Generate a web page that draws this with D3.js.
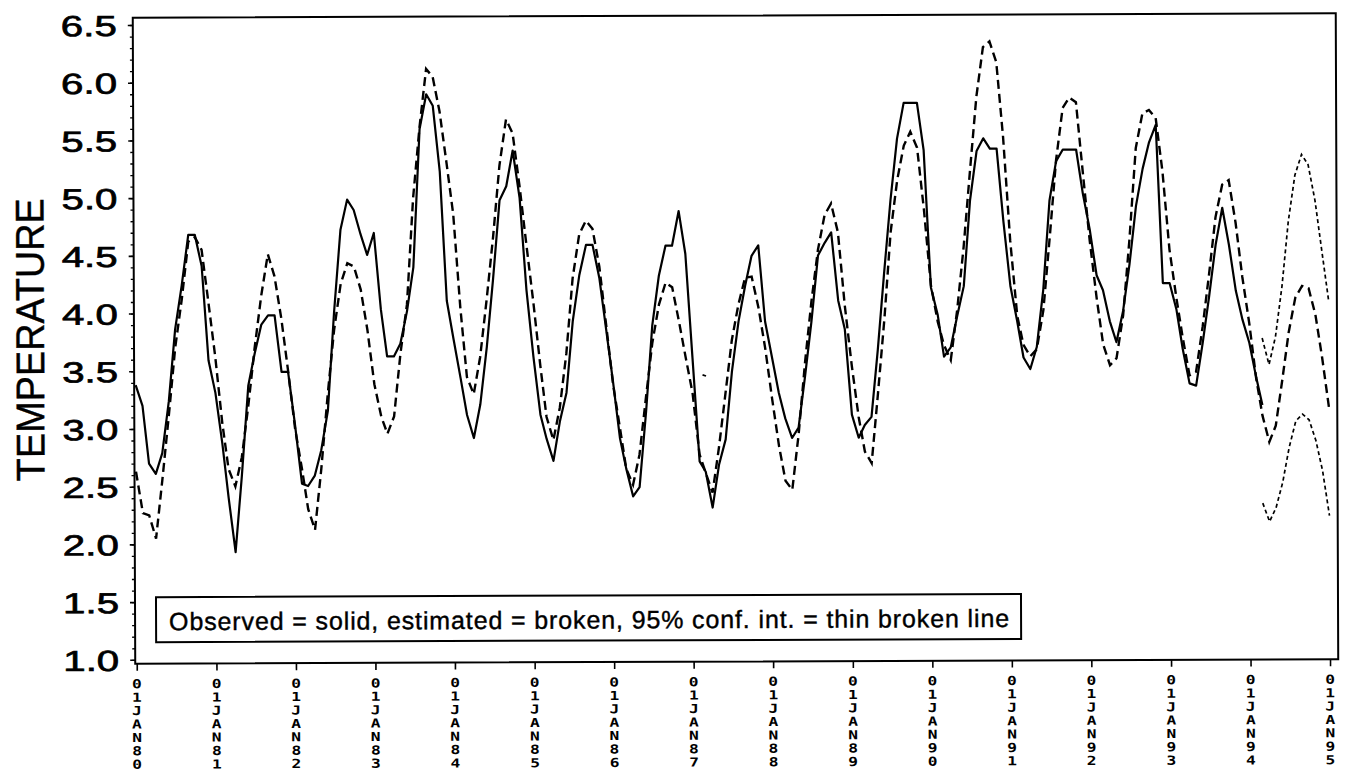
<!DOCTYPE html>
<html><head><meta charset="utf-8">
<script src="https://cdn.jsdelivr.net/npm/d3@7"></script>
<style>html,body{margin:0;padding:0;background:#fff;} svg{display:block}</style>
</head><body>
<svg id="chart" width="1346" height="774"></svg>
<script>
// ---- data (monthly, starting Jan 1980) ----
const startMonth = "1980-01-01";
const obsValues = [
  3.38, 3.20, 2.70, 2.61, 2.79, 3.24, 3.86, 4.24, 4.68, 4.68, 4.41, 3.59,
  3.31, 2.87, 2.40, 1.93, 2.59, 3.37, 3.65, 3.90, 3.98, 3.98, 3.49, 3.49,
  3.03, 2.52, 2.50, 2.59, 2.81, 3.15, 4.00, 4.72, 4.98, 4.89, 4.68, 4.50,
  4.69, 4.03, 3.62, 3.62, 3.73, 4.01, 4.39, 5.59, 5.89, 5.79, 5.22, 4.10,
  3.76, 3.43, 3.11, 2.91, 3.20, 3.70, 4.29, 4.97, 5.09, 5.40, 4.99, 4.19,
  3.61, 3.11, 2.90, 2.71, 3.05, 3.30, 3.92, 4.32, 4.58, 4.58, 4.29, 3.85,
  3.39, 2.90, 2.64, 2.40, 2.48, 3.13, 3.88, 4.31, 4.57, 4.57, 4.87, 4.50,
  3.60, 2.70, 2.61, 2.30, 2.67, 2.89, 3.48, 3.91, 4.22, 4.48, 4.57, 3.91,
  3.60, 3.29, 3.07, 2.90, 2.99, 3.44, 3.91, 4.48, 4.59, 4.68, 4.09, 3.84,
  3.10, 2.90, 3.01, 3.08, 3.66, 4.34, 4.96, 5.49, 5.80, 5.80, 5.80, 5.39,
  4.20, 3.96, 3.60, 3.68, 3.95, 4.21, 4.95, 5.38, 5.49, 5.40, 5.40, 4.77,
  4.21, 3.90, 3.59, 3.49, 3.68, 4.18, 4.95, 5.29, 5.39, 5.39, 5.39, 5.01,
  4.70, 4.30, 4.17, 3.90, 3.72, 3.99, 4.39, 4.90, 5.22, 5.45, 5.60, 4.23,
  4.23, 4.00, 3.66, 3.36, 3.34, 3.71, 4.11, 4.56, 4.88, 4.56, 4.16, 3.91,
  3.71, 3.41, 3.17
];
const estValues = [
  2.63, 2.27, 2.25, 2.05, 2.56, 3.12, 3.70, 4.12, 4.62, 4.66, 4.55, 4.10,
  3.62, 3.05, 2.65, 2.50, 2.75, 3.20, 3.70, 4.15, 4.51, 4.32, 3.95, 3.50,
  3.00, 2.65, 2.30, 2.12, 2.65, 3.30, 3.85, 4.25, 4.43, 4.40, 4.20, 3.85,
  3.38, 3.10, 2.95, 3.10, 3.64, 4.07, 4.99, 5.61, 6.11, 6.04, 5.74, 5.31,
  4.85, 4.04, 3.44, 3.29, 3.61, 4.11, 4.64, 5.27, 5.67, 5.55, 5.09, 4.59,
  4.09, 3.54, 3.09, 2.89, 3.17, 3.64, 4.29, 4.67, 4.79, 4.72, 4.39, 3.89,
  3.37, 2.99, 2.64, 2.50, 2.76, 3.26, 3.73, 4.06, 4.25, 4.21, 3.91, 3.60,
  3.29, 2.76, 2.60, 2.43, 2.82, 3.29, 3.75, 4.06, 4.29, 4.30, 4.03, 3.68,
  3.24, 2.83, 2.53, 2.45, 2.93, 3.56, 4.08, 4.53, 4.83, 4.93, 4.68, 4.05,
  3.53, 3.08, 2.78, 2.68, 3.28, 3.93, 4.68, 5.13, 5.43, 5.55, 5.41, 4.88,
  4.22, 3.90, 3.70, 3.57, 4.00, 4.55, 5.20, 5.85, 6.28, 6.33, 6.15, 5.50,
  4.60, 3.95, 3.70, 3.60, 3.66, 4.00, 4.62, 5.30, 5.75, 5.84, 5.80, 5.20,
  4.60, 4.10, 3.70, 3.52, 3.58, 3.95, 4.60, 5.40, 5.70, 5.73, 5.66, 5.20,
  4.52, 4.10, 3.76, 3.43, 3.46, 3.85, 4.30, 4.80, 5.08, 5.12, 4.75, 4.28,
  3.88, 3.40, 3.08, 2.85, 2.99, 3.39, 3.80, 4.10, 4.20, 4.18, 3.95, 3.58, 3.14
];
const ciStartMonth = "1994-03-01";
const ciLowerValues = [2.32, 2.16, 2.28, 2.50, 2.80, 3.03, 3.09, 3.04, 2.86, 2.60, 2.21];
const ciUpperValues = [3.75, 3.52, 3.76, 4.20, 4.76, 5.16, 5.34, 5.25, 4.94, 4.51, 4.07];
const strayDates = ["1987-02-16", "1987-03-04"];
const strayValues = [3.45, 3.44];
const xTickLabels = ["01JAN80","01JAN81","01JAN82","01JAN83","01JAN84","01JAN85","01JAN86","01JAN87",
                     "01JAN88","01JAN89","01JAN90","01JAN91","01JAN92","01JAN93","01JAN94","01JAN95"];
const yTickLabels = ["1.0","1.5","2.0","2.5","3.0","3.5","4.0","4.5","5.0","5.5","6.0","6.5"];
const yMinorTicks = d3.range(10, 66).map(v => v / 10);
const yLabel = "TEMPERATURE";
const legendText = "Observed = solid, estimated = broken, 95% conf. int. =  thin broken line";

// ---- layout ----
const svg = d3.select("#chart");
const g = svg.append("g").attr("transform", "rotate(-0.22,735,340)");
const frame = { left: 134, right: 1337, top: 15.5, bottom: 661.5 };

const t0 = new Date(startMonth);
const x = d3.scaleUtc()
  .domain([new Date("1980-01-01"), new Date("1995-01-01")])
  .range([135.5, 1328.8]);
const y = d3.scaleLinear().domain([1.0, 6.5]).range([657.5, 22.7]);

const obs = obsValues.map((v, i) => ({ date: d3.utcMonth.offset(t0, i), value: v }));
const est = estValues.map((v, i) => ({ date: d3.utcMonth.offset(t0, i), value: v }));
const ci0 = new Date(ciStartMonth);
const ciLow = ciLowerValues.map((v, i) => ({ date: d3.utcMonth.offset(ci0, i), value: v }));
const ciUp = ciUpperValues.map((v, i) => ({ date: d3.utcMonth.offset(ci0, i), value: v }));
const stray = strayDates.map((d, i) => ({ date: new Date(d), value: strayValues[i] }));

const line = d3.line().x(d => x(d.date)).y(d => y(d.value));

// frame
g.append("rect")
  .attr("x", frame.left).attr("y", frame.top)
  .attr("width", frame.right - frame.left).attr("height", frame.bottom - frame.top)
  .attr("fill", "none").attr("stroke", "#000").attr("stroke-width", 2);

// y axis: minor ticks
const yMinor = g.append("g").attr("transform", `translate(${frame.left},0)`)
  .call(d3.axisLeft(y).tickValues(yMinorTicks).tickSize(3).tickFormat(""));
yMinor.select(".domain").remove();
yMinor.selectAll("line").attr("stroke", "#000").attr("stroke-width", 1.3);

// y axis: major ticks + labels
const yMajor = g.append("g").attr("transform", `translate(${frame.left},0)`)
  .call(d3.axisLeft(y).tickValues(yTickLabels.map(Number)).tickSize(5)
    .tickFormat((d, i) => yTickLabels[i]));
yMajor.select(".domain").remove();
yMajor.selectAll("line").attr("stroke", "#000").attr("stroke-width", 1.6);
yMajor.selectAll("text")
  .attr("font-family", "'Liberation Sans', Arial, sans-serif")
  .attr("font-size", 29).attr("fill", "#000")
  .attr("stroke", "#000").attr("stroke-width", 0.7)
  .attr("text-anchor", "start").attr("x", -72).attr("dy", "0.36em")
  .attr("textLength", 56).attr("lengthAdjust", "spacingAndGlyphs");

// x axis ticks
const yearDates = xTickLabels.map((l, i) => d3.utcYear.offset(new Date("1980-01-01"), i));
const xAxis = g.append("g").attr("transform", `translate(0,${frame.bottom})`)
  .call(d3.axisBottom(x).tickValues(yearDates).tickSize(7).tickFormat(""));
xAxis.select(".domain").remove();
xAxis.selectAll("line").attr("stroke", "#000").attr("stroke-width", 1.6);

// stacked x tick labels
const xl = g.append("g");
yearDates.forEach((d, i) => {
  const chars = xTickLabels[i].split("");
  chars.forEach((c, j) => {
    xl.append("text")
      .attr("transform", `translate(${x(d)},${686 + j * 13.4}) scale(1.3,1)`)
      .attr("text-anchor", "middle")
      .attr("font-family", "'DejaVu Sans Mono', monospace")
      .attr("font-size", 12.5)
      .attr("font-weight", "bold")
      .attr("fill", "#000")
      .text(c);
  });
});

// y label
g.append("text")
  .attr("transform", "translate(44,337) rotate(-90)")
  .attr("text-anchor", "middle")
  .attr("font-family", "'Liberation Sans', Arial, sans-serif")
  .attr("font-size", 40)
  .attr("stroke", "#000").attr("stroke-width", 0.4)
  .attr("textLength", 283).attr("lengthAdjust", "spacingAndGlyphs")
  .attr("fill", "#000")
  .text(yLabel);

// series
g.append("path").datum(est).attr("d", line)
  .attr("fill", "none").attr("stroke", "#000").attr("stroke-width", 2.4)
  .attr("stroke-dasharray", "9,5");
g.append("path").datum(obs).attr("d", line)
  .attr("fill", "none").attr("stroke", "#000").attr("stroke-width", 2.2)
  .attr("stroke-linejoin", "round");
[ciLow, ciUp].forEach(s => {
  g.append("path").datum(s).attr("d", line)
    .attr("fill", "none").attr("stroke", "#000").attr("stroke-width", 1.7)
    .attr("stroke-dasharray", "4,3");
});
g.append("path").datum(stray).attr("d", line)
  .attr("fill", "none").attr("stroke", "#000").attr("stroke-width", 1.8);

// legend box
g.append("rect")
  .attr("x", 155).attr("y", 595).attr("width", 865).attr("height", 45)
  .attr("fill", "#fff").attr("stroke", "#000").attr("stroke-width", 2);
g.append("text")
  .attr("x", 168).attr("y", 628)
  .attr("font-family", "'Liberation Sans', Arial, sans-serif")
  .attr("font-size", 25)
  .attr("stroke", "#000").attr("stroke-width", 0.4)
  .attr("textLength", 840).attr("lengthAdjust", "spacing")
  .attr("fill", "#000")
  .text(legendText);
</script>
</body></html>
